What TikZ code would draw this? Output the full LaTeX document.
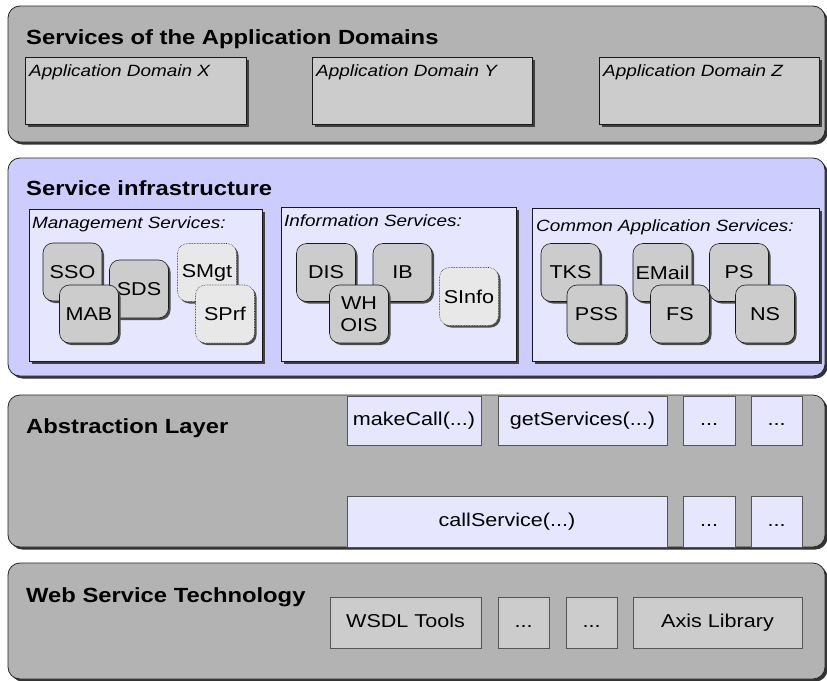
\documentclass[tikz,border=0pt]{standalone}
\usepackage{fontspec}
\setmainfont{Liberation Sans}
\usepackage{graphicx}
\usetikzlibrary{shadows,calc}
\definecolor{layergray}{HTML}{B3B3B3}
\definecolor{lav}{HTML}{CCCCFF}
\definecolor{lightlav}{HTML}{E6E6FF}
\definecolor{boxgray}{HTML}{CCCCCC}
\definecolor{dotgray}{HTML}{E8E8E8}
\definecolor{edgegray}{HTML}{555555}
\newcommand\hs[1]{\scalebox{1.16}[1]{#1}}
\tikzset{
  x=1pt, y=-1pt,
  layer/.style={draw=black!85, fill=#1, rounded corners=12pt, line width=0.8pt,
    inner sep=0pt, outer sep=0pt,
    drop shadow={shadow xshift=2.5pt, shadow yshift=-2.5pt, fill=black!80, opacity=1}},
  layertitle/.style={anchor=base west, inner sep=0pt, font=\fontsize{20.5}{24}\selectfont\bfseries},
  domainbox/.style={draw=black!90, fill=#1, line width=0.6pt, inner sep=0pt, outer sep=0pt,
    drop shadow={shadow xshift=2.5pt, shadow yshift=-2.5pt, fill=black!75, opacity=1}},
  boxlabel/.style={anchor=base west, inner sep=0pt, font=\fontsize{16.3}{19}\selectfont\itshape},
  svc/.style={draw=black!90, fill=boxgray, rounded corners=10pt, line width=0.6pt,
    minimum width=59pt, minimum height=58pt, inner sep=0pt,
    font=\fontsize{18.6}{22}\selectfont, align=center,
    drop shadow={shadow xshift=2pt, shadow yshift=-2pt, fill=black!70, opacity=1}},
  svcdot/.style={svc, fill=dotgray, densely dotted, draw=black!80},
  fbox/.style={draw=edgegray, fill=#1, line width=0.6pt, inner sep=0pt,
    text height=13.5pt, text depth=4pt,
    font=\fontsize{18.6}{20}\selectfont},
}
\begin{document}
\begin{tikzpicture}
\clip (0,0) rectangle (827,680);
\fill[white] (0,0) rectangle (827,680);

% ---------- Layer 1
\node[layer=layergray, minimum width=817pt, minimum height=136pt] (L1) at (416.5,74) {};
\node[layertitle] (t1) at (26,44) {\hs{Services of the Application Domains}};
\node[domainbox=boxgray, minimum width=221pt, minimum height=67pt] (DX) at (135.5,90.5) {};
\node[domainbox=boxgray, minimum width=220pt, minimum height=67pt] (DY) at (422,90.5) {};
\node[domainbox=boxgray, minimum width=220pt, minimum height=67pt] (DZ) at (709,90.5) {};
\node[boxlabel] (dxl) at ($(DX.north west)+(4,19)$) {\hs{Application Domain X}};
\node[boxlabel] (dyl) at ($(DY.north west)+(4,19)$) {\hs{Application Domain Y}};
\node[boxlabel] (dzl) at ($(DZ.north west)+(4,19)$) {\hs{Application Domain Z}};

% ---------- Layer 2
\node[layer=lav, minimum width=817pt, minimum height=218pt] (L2) at (416.5,267) {};
\node[layertitle] (t2) at (26,195.5) {\hs{Service infrastructure}};
\node[domainbox=lightlav, minimum width=233pt, minimum height=152pt] (MG) at (145.5,285) {};
\node[domainbox=lightlav, minimum width=235pt, minimum height=154pt] (IN) at (398.5,284) {};
\node[domainbox=lightlav, minimum width=287pt, minimum height=153pt] (CO) at (675.5,284.5) {};
\node[boxlabel] (mgl) at ($(MG.north west)+(3,19)$) {\hs{Management Services:}};
\node[boxlabel] (inl) at ($(IN.north west)+(3,19)$) {\hs{Information Services:}};
\node[boxlabel] (col) at ($(CO.north west)+(4,23)$) {\hs{Common Application Services:}};

\node[svc] (SDS) at (139,289) {\hs{SDS}};
\node[svc] (SSO) at (72.5,272) {\hs{SSO}};
\node[svc] (MAB) at (89,314) {\hs{MAB}};
\node[svcdot] (SMgt) at (207,272.5) {\hs{SMgt}};
\node[svcdot] (SPrf) at (225,314) {\hs{SPrf}};

\node[svc] (DIS) at (326,272.5) {\hs{DIS}};
\node[svc] (IB) at (402.5,272.5) {\hs{IB}};
\node[svc] (WHOIS) at (359,314) {\hs{WH}\\\hs{OIS}};
\node[svcdot] (SInfo) at (469,296.5) {\hs{SInfo}};

\node[svc] (TKS) at (570.5,272.5) {\hs{TKS}};
\node[svc] (PSS) at (596.5,314) {\hs{PSS}};
\node[svc] (EMail) at (662.5,272.5) {\hs{EMail}};
\node[svc] (FS) at (680,314) {\hs{FS}};
\node[svc] (PS) at (739,272.5) {\hs{PS}};
\node[svc] (NS) at (765,314) {\hs{NS}};

% ---------- Layer 3
\node[layer=layergray, minimum width=817pt, minimum height=152pt] (L3) at (416.5,471) {};
\node[layertitle] (t3) at (26,433) {\hs{Abstraction Layer}};
\node[fbox=lightlav, minimum width=134pt, minimum height=49pt] (mc) at (414,420.5) {\hs{makeCall(...)}};
\node[fbox=lightlav, minimum width=169pt, minimum height=49pt] (gs) at (582.5,420.5) {\hs{getServices(...)}};
\node[fbox=lightlav, minimum width=52pt, minimum height=49pt] (a1) at (709,420.5) {\hs{...}};
\node[fbox=lightlav, minimum width=51pt, minimum height=49pt] (a2) at (776.5,420.5) {\hs{...}};
\node[fbox=lightlav, minimum width=320pt, minimum height=51pt] (cs) at (507,521.5) {\hs{callService(...)}};
\node[fbox=lightlav, minimum width=52pt, minimum height=51pt] (b1) at (709,521.5) {\hs{...}};
\node[fbox=lightlav, minimum width=51pt, minimum height=51pt] (b2) at (776.5,521.5) {\hs{...}};

% ---------- Layer 4
\node[layer=layergray, minimum width=817pt, minimum height=116pt] (L4) at (416.5,621) {};
\node[layertitle] (t4) at (26,602) {\hs{Web Service Technology}};
\node[fbox=boxgray, minimum width=151pt, minimum height=51pt] (ws) at (405.5,622.5) {\hs{WSDL Tools}};
\node[fbox=boxgray, minimum width=51pt, minimum height=51pt] (w1) at (523.5,622.5) {\hs{...}};
\node[fbox=boxgray, minimum width=51pt, minimum height=51pt] (w2) at (591.5,622.5) {\hs{...}};
\node[fbox=boxgray, minimum width=169pt, minimum height=51pt] (ax) at (717.5,622.5) {\hs{Axis Library}};
\end{tikzpicture}
\end{document}
